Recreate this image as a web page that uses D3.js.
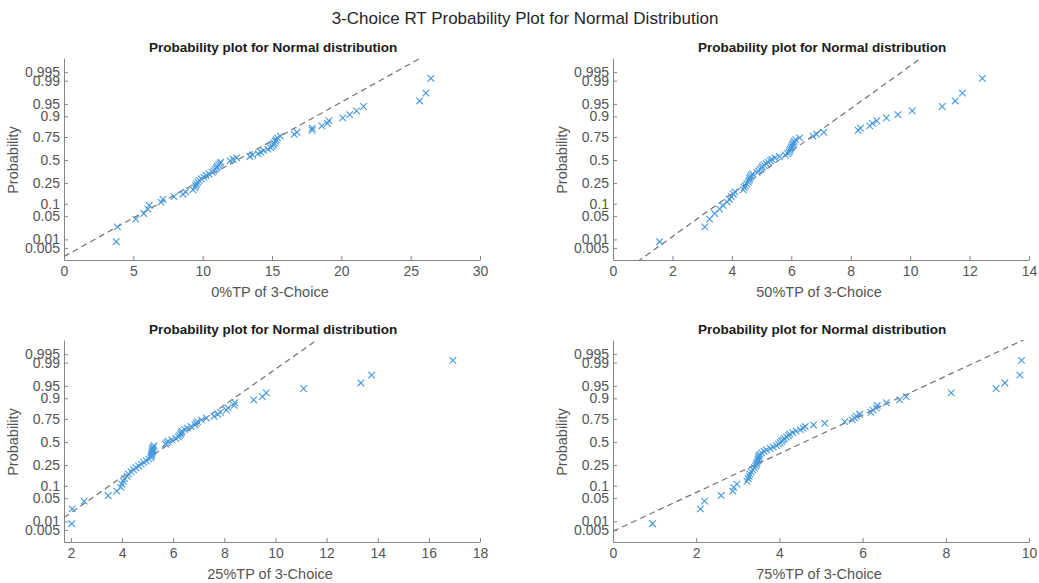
<!DOCTYPE html>
<html>
<head>
<meta charset="utf-8">
<script src="https://cdn.jsdelivr.net/npm/d3@7"></script>
<style>
  html, body { margin: 0; padding: 0; background: #ffffff; }
  svg { display: block; font-family: "Liberation Sans", Arial, Helvetica, sans-serif; }
</style>
</head>
<body>
<svg id="chart" width="1039" height="583"></svg>
<script>
// ---------------- data ----------------
const suptitle = "3-Choice RT Probability Plot for Normal Distribution";
const panelTitle = "Probability plot for Normal distribution";
const yLabel = "Probability";

const probTicks = [0.005, 0.01, 0.05, 0.1, 0.25, 0.5, 0.75, 0.9, 0.95, 0.99, 0.995];
const probTickLabels = ["0.005", "0.01", "0.05", "0.1", "0.25", "0.5", "0.75", "0.9", "0.95", "0.99", "0.995"];

const xLabels = ["0%TP of 3-Choice", "50%TP of 3-Choice", "25%TP of 3-Choice", "75%TP of 3-Choice"];
const xDomains = [[0, 30], [0, 14], [1.73, 18], [0, 10]];
const xTicks = [
  [0, 5, 10, 15, 20, 25, 30],
  [0, 2, 4, 6, 8, 10, 12, 14],
  [2, 4, 6, 8, 10, 12, 14, 16, 18],
  [0, 2, 4, 6, 8, 10]
];

const values0 = [3.77, 3.85, 5.17, 5.75, 6.05, 6.15, 7.0, 7.14, 7.93, 8.58,
  8.77, 9.3, 9.45, 9.5, 9.55, 9.65, 9.75, 9.9, 10.1, 10.25,
  10.45, 10.7, 10.8, 10.9, 11.0, 11.05, 11.15, 11.25, 11.3, 11.97,
  12.2, 12.45, 13.4, 13.6, 14.0, 14.2, 14.4, 14.7, 14.9, 15.0,
  15.1, 15.15, 15.25, 15.3, 15.4, 15.6, 16.6, 16.8, 17.9, 17.9,
  18.6, 19.0, 19.1, 20.1, 20.6, 21.1, 21.6, 25.65, 26.1, 26.46];
const values50 = [1.57, 3.09, 3.25, 3.42, 3.59, 3.70, 3.84, 3.92, 3.98, 4.05,
  4.1, 4.38, 4.42, 4.45, 4.5, 4.55, 4.58, 4.6, 4.62, 4.65,
  4.7, 4.85, 4.9, 4.95, 5.0, 5.03, 5.08, 5.15, 5.22, 5.3,
  5.35, 5.45, 5.6, 5.8, 5.88, 5.92, 5.95, 5.97, 6.0, 6.02,
  6.05, 6.07, 6.1, 6.15, 6.28, 6.73, 6.85, 7.09, 8.25, 8.33,
  8.64, 8.73, 8.88, 9.2, 9.59, 10.07, 11.08, 11.52, 11.76, 12.43];
const values25 = [2.03, 2.05, 2.52, 3.46, 3.79, 3.95, 4.0, 4.05, 4.1, 4.2,
  4.25, 4.35, 4.45, 4.55, 4.65, 4.75, 4.85, 4.95, 5.05, 5.12,
  5.15, 5.16, 5.17, 5.18, 5.19, 5.2, 5.22, 5.25, 5.7, 5.75,
  5.8, 5.95, 6.1, 6.2, 6.25, 6.3, 6.32, 6.35, 6.45, 6.55,
  6.7, 6.85, 6.9, 6.95, 7.1, 7.3, 7.6, 7.75, 7.85, 8.08,
  8.15, 8.38, 8.41, 9.15, 9.49, 9.64, 11.1, 13.34, 13.76, 16.94];
const values75 = [0.95, 2.10, 2.20, 2.60, 2.88, 2.90, 2.98, 3.22, 3.25, 3.27,
  3.29, 3.32, 3.36, 3.4, 3.43, 3.45, 3.46, 3.48, 3.49, 3.5,
  3.51, 3.53, 3.57, 3.63, 3.69, 3.78, 3.85, 3.93, 3.98, 4.02,
  4.06, 4.09, 4.12, 4.17, 4.22, 4.25, 4.32, 4.4, 4.5, 4.57,
  4.62, 4.82, 5.09, 5.57, 5.75, 5.81, 5.85, 5.93, 6.2, 6.25,
  6.33, 6.35, 6.57, 6.89, 7.05, 8.13, 9.21, 9.42, 9.78, 9.82];
const panelValues = [values0, values50, values25, values75];

// reference normal line (mean, sd) per panel
const lineMeans = [12.5, 5.59, 5.94, 4.6];
const lineSds = [4.42, 1.6, 1.9, 1.76];

// ---------------- layout ----------------
const W = 1039, H = 583;
const zDomain = [-2.93, 2.99];
const panelBoxes = [
  { left: 64, top: 58, width: 416, height: 202 },
  { left: 613, top: 58, width: 416, height: 202 },
  { left: 64, top: 340, width: 416, height: 202 },
  { left: 613, top: 340, width: 416, height: 202 }
];
const COL_AXIS = "#858585";
const COL_TEXT = "#555555";
const COL_MARK = "#4398de";
const COL_REF = "#727272";

// inverse standard normal CDF (Acklam)
function norminv(p) {
  const a = [-3.969683028665376e+01, 2.209460984245205e+02, -2.759285104469687e+02, 1.383577518672690e+02, -3.066479806614716e+01, 2.506628277459239e+00];
  const b = [-5.447609879822406e+01, 1.615858368580409e+02, -1.556989798598866e+02, 6.680131188771972e+01, -1.328068155288572e+01];
  const c = [-7.784894002430293e-03, -3.223964580411365e-01, -2.400758277161838e+00, -2.549732539343734e+00, 4.374664141464968e+00, 2.938163982698783e+00];
  const d = [7.784695709041462e-03, 3.224671290700398e-01, 2.445134137142996e+00, 3.754408661907416e+00];
  const pl = 0.02425, ph = 1 - pl;
  let q, r;
  if (p < pl) {
    q = Math.sqrt(-2 * Math.log(p));
    return (((((c[0]*q+c[1])*q+c[2])*q+c[3])*q+c[4])*q+c[5]) / ((((d[0]*q+d[1])*q+d[2])*q+d[3])*q+1);
  } else if (p <= ph) {
    q = p - 0.5; r = q * q;
    return (((((a[0]*r+a[1])*r+a[2])*r+a[3])*r+a[4])*r+a[5])*q / (((((b[0]*r+b[1])*r+b[2])*r+b[3])*r+b[4])*r+1);
  } else {
    q = Math.sqrt(-2 * Math.log(1 - p));
    return -(((((c[0]*q+c[1])*q+c[2])*q+c[3])*q+c[4])*q+c[5]) / ((((d[0]*q+d[1])*q+d[2])*q+d[3])*q+1);
  }
}

const svg = d3.select("#chart");

svg.append("text")
  .attr("x", 525).attr("y", 24)
  .attr("text-anchor", "middle")
  .attr("font-size", 17)
  .attr("fill", "#262626")
  .text(suptitle);

panelBoxes.forEach((box, i) => {
  const g = svg.append("g").attr("transform", `translate(${box.left},${box.top})`);
  const x = d3.scaleLinear().domain(xDomains[i]).range([0, box.width]);
  const y = d3.scaleLinear().domain(zDomain).range([box.height, 0]);

  const clipId = "clip" + i;
  g.append("clipPath").attr("id", clipId)
    .append("rect").attr("x", 0).attr("y", 0).attr("width", box.width).attr("height", box.height);

  // axes
  const xAxis = d3.axisBottom(x).tickValues(xTicks[i]).tickSizeInner(-4).tickSizeOuter(0).tickPadding(6)
    .tickFormat(d3.format("d"));
  const gx = g.append("g").attr("transform", `translate(0,${box.height})`).call(xAxis);

  const zTicks = probTicks.map(norminv);
  const yAxis = d3.axisLeft(y).tickValues(zTicks).tickSizeInner(-4).tickSizeOuter(0).tickPadding(4)
    .tickFormat((d, k) => probTickLabels[k]);
  const gy = g.append("g").call(yAxis);

  [gx, gy].forEach(ax => {
    ax.select(".domain").attr("stroke", COL_AXIS);
    ax.selectAll(".tick line").attr("stroke", COL_AXIS);
    ax.selectAll(".tick text").attr("fill", COL_TEXT).attr("font-size", 14)
      .attr("font-family", "Liberation Sans, Arial, sans-serif");
  });

  // reference line
  const mu = lineMeans[i], sd = lineSds[i];
  const xs = xDomains[i];
  const linePts = [xs[0], xs[1]].map(v => [v, (v - mu) / sd]);
  g.append("path")
    .attr("clip-path", `url(#${clipId})`)
    .attr("d", d3.line().x(p => x(p[0])).y(p => y(p[1]))(linePts))
    .attr("fill", "none")
    .attr("stroke", COL_REF)
    .attr("stroke-width", 1.2)
    .attr("stroke-dasharray", "6,4");

  // points (plotting positions (k-0.5)/n)
  const vals = panelValues[i];
  const n = vals.length;
  const pts = vals.map((v, k) => ({ x: v, z: norminv((k + 0.5) / n) }));
  const s = 3.3;
  g.append("g").selectAll("path.mk").data(pts).join("path")
    .attr("class", "mk")
    .attr("d", p => {
      const cx = x(p.x), cy = y(p.z);
      return `M${cx - s},${cy - s}L${cx + s},${cy + s}M${cx - s},${cy + s}L${cx + s},${cy - s}`;
    })
    .attr("stroke", COL_MARK)
    .attr("stroke-width", 1.1)
    .attr("fill", "none");

  // titles and labels
  g.append("text")
    .attr("x", box.width / 2 + 1).attr("y", -6)
    .attr("text-anchor", "middle")
    .attr("font-size", 13.5).attr("font-weight", "bold")
    .attr("fill", "#1a1a1a")
    .text(panelTitle);

  g.append("text")
    .attr("x", box.width / 2 - 2).attr("y", box.height + 37)
    .attr("text-anchor", "middle")
    .attr("font-size", 14.5)
    .attr("fill", COL_TEXT)
    .text(xLabels[i]);

  g.append("text")
    .attr("transform", `translate(${-46},${y(0)}) rotate(-90)`)
    .attr("text-anchor", "middle")
    .attr("font-size", 14.5)
    .attr("fill", COL_TEXT)
    .text(yLabel);
});
</script>
</body>
</html>
